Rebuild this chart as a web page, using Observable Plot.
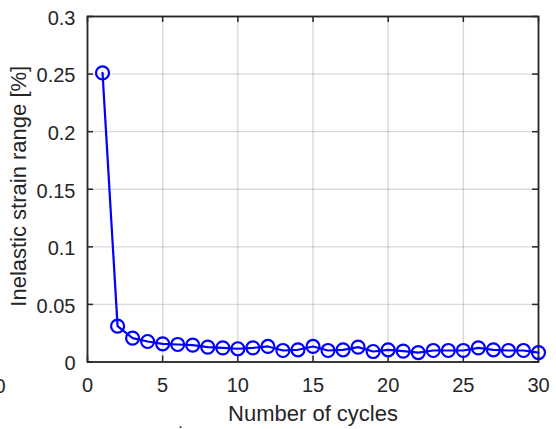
<!DOCTYPE html>
<html><head><meta charset="utf-8">
<script src="https://cdn.jsdelivr.net/npm/d3@7"></script>
<script src="https://cdn.jsdelivr.net/npm/@observablehq/plot@0.6"></script>
<style>html,body{margin:0;padding:0;background:#fff;} svg{display:block;}</style>
</head><body><div id="chart"></div>
<script>
const cycles = [1,2,3,4,5,6,7,8,9,10,11,12,13,14,15,16,17,18,19,20,21,22,23,24,25,26,27,28,29,30];
const strain = [0.251,0.0311,0.0207,0.0178,0.0158,0.0152,0.0146,0.0129,0.0123,0.0115,
                0.0123,0.0135,0.0100,0.0106,0.0135,0.0100,0.0106,0.0129,0.0091,0.0106,
                0.0094,0.0082,0.0100,0.0100,0.0100,0.0123,0.0106,0.0100,0.0100,0.0082];
const xTicks = [0,5,10,15,20,25,30];
const xTickLabels = ["0","5","10","15","20","25","30"];
const yTicks = [0,0.05,0.1,0.15,0.2,0.25,0.3];
const yTickLabels = ["0","0.05","0.1","0.15","0.2","0.25","0.3"];
const xLabel = "Number of cycles";
const yLabel = "Inelastic strain range [%]";

const data = cycles.map((c,i)=>({cycle:c, strain:strain[i]}));
const ink = "#262626";
const tickStyle = {stroke: ink, strokeWidth: 1.5};

const chart = Plot.plot({
  width: 556, height: 429,
  marginTop: 16, marginLeft: 87, marginRight: 18, marginBottom: 67.5,
  style: {fontFamily: "'Liberation Sans', Arial, Helvetica, sans-serif", color: ink, background: "#fff", overflow: "visible"},
  x: {domain: [0,30]},
  y: {domain: [0,0.3]},
  marks: [
    Plot.gridX(xTicks, {stroke: "#000", strokeOpacity: 0.15, strokeWidth: 1.4}),
    Plot.gridY(yTicks, {stroke: "#000", strokeOpacity: 0.15, strokeWidth: 1.4}),
    Plot.tickX(xTicks, {x: d=>d, insetTop: 339.5, ...tickStyle}),
    Plot.tickX(xTicks, {x: d=>d, insetBottom: 339.5, ...tickStyle}),
    Plot.tickY(yTicks, {y: d=>d, insetRight: 445, ...tickStyle}),
    Plot.tickY(yTicks, {y: d=>d, insetLeft: 445, ...tickStyle}),
    Plot.frame({stroke: ink, strokeWidth: 1.8}),
    Plot.line(data, {x: "cycle", y: "strain", stroke: "#0000ff", strokeWidth: 2.2}),
    Plot.dot(data, {x: "cycle", y: "strain", r: 6.5, stroke: "#0000ff", strokeWidth: 2.2, fill: "none"}),
    Plot.axisX(xTicks, {tickSize: 0, tickPadding: 16, fontSize: 20, label: null, fill: ink,
      tickFormat: d => xTickLabels[xTicks.indexOf(d)]}),
    Plot.axisY(yTicks, {tickSize: 0, tickPadding: 12, fontSize: 20, label: null, fill: ink, dy: 2,
      tickFormat: d => yTickLabels[yTicks.indexOf(d)]}),
    Plot.text([xLabel], {frameAnchor: "bottom", textAnchor: "middle", lineAnchor: "top", dy: 43.5, fontSize: 22, fill: ink, text: d=>d}),
    Plot.text([yLabel], {frameAnchor: "left", rotate: -90, textAnchor: "middle", lineAnchor: "middle", dx: -68.5, dy: -3, fontSize: 22, fill: ink, text: d=>d}),
    Plot.text(["0"], {frameAnchor: "bottom-left", textAnchor: "end", lineAnchor: "top", dx: -82, dy: 16.5, fontSize: 20, fill: ink, text: d=>d}),
    Plot.text(["."], {frameAnchor: "bottom-left", textAnchor: "middle", lineAnchor: "bottom", dx: 93, dy: 66, fontSize: 16, fill: ink, text: d=>d})
  ]
});
document.getElementById("chart").appendChild(chart);
</script>
</body></html>
